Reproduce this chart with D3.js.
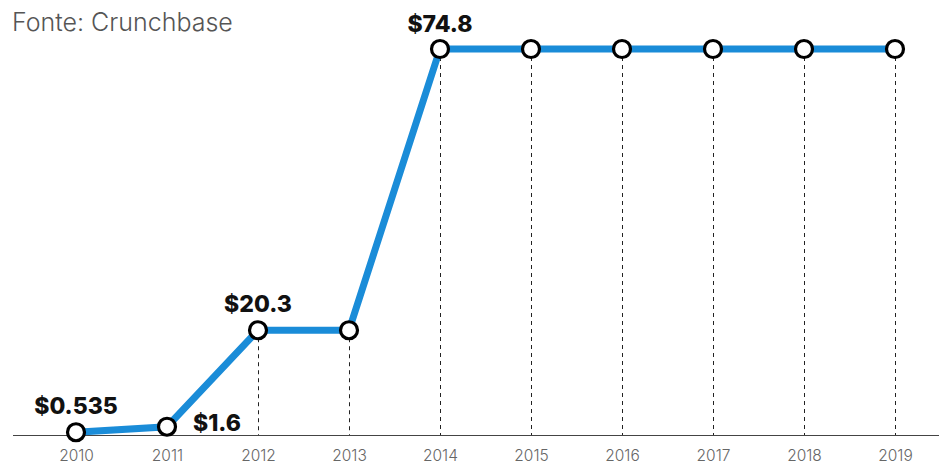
<!DOCTYPE html>
<html>
<head>
<meta charset="utf-8">
<script src="https://cdn.jsdelivr.net/npm/d3@7"></script>
<style>
  body { margin: 0; background: #fff; }
</style>
</head>
<body>
<div id="chart"></div>
<script>
// data (US$ millions, Crunchbase)
const years = ["2010", "2011", "2012", "2013", "2014", "2015", "2016", "2017", "2018", "2019"]
const funding = [0.535, 1.6, 20.3, 20.3, 74.8, 74.8, 74.8, 74.8, 74.8, 74.8]
const pointLabels = ["$0.535", "$1.6", "$20.3", "", "$74.8", "", "", "", "", ""]

const width = 939
const height = 464

const svg = d3.select("#chart").append("svg")
    .attr("width", width)
    .attr("height", height)

let x = d3.scalePoint().domain(years).range([76, 895])
let y = d3.scaleLinear().domain([0, 74.8]).range([435, 49])

// source note
svg.append("text")
    .attr("x", 12)
    .attr("y", 31)
    .attr("font-family", "Inter, 'Noto Sans', sans-serif")
    .attr("font-size", 25)
    .attr("font-weight", 300)
    .attr("fill", "#555")
    .text("Fonte: Crunchbase")

// baseline + year labels
let xAxis = g => g.attr("transform", "translate(0,435)")
    .call(d3.axisBottom(x).tickSize(0).tickPadding(15))
    .call(g => g.select(".domain").remove())
    .call(g => g.selectAll("text")
        .attr("font-family", "Inter, 'Noto Sans', sans-serif")
        .attr("font-size", 15.5)
        .attr("font-weight", 300)
        .attr("fill", "#666"))
svg.append("line")
    .attr("x1", 13).attr("x2", width)
    .attr("y1", 435.5).attr("y2", 435.5)
    .attr("stroke", "#444")
    .attr("stroke-width", 1)
svg.append("g").call(xAxis)

// dashed drop lines
svg.append("g").selectAll("line")
    .data(years)
    .join("line")
    .attr("x1", d => x(d) + 0.5)
    .attr("x2", d => x(d) + 0.5)
    .attr("y1", (d, i) => y(funding[i]))
    .attr("y2", 435)
    .attr("stroke", "#222")
    .attr("stroke-width", 1)
    .attr("stroke-dasharray", "4,4")

// the line
let line = d3.line().x((d, i) => x(years[i])).y(d => y(d))
svg.append("path")
    .datum(funding)
    .attr("fill", "none")
    .attr("stroke", "#1a8cd8")
    .attr("stroke-width", 7)
    .attr("stroke-linejoin", "miter")
    .attr("d", line)

// markers
svg.append("g").selectAll("circle")
    .data(funding)
    .join("circle")
    .attr("cx", (d, i) => x(years[i]))
    .attr("cy", d => y(d))
    .attr("r", 8.5)
    .attr("fill", "#fff")
    .attr("stroke", "#000")
    .attr("stroke-width", 3.2)

// value labels
const labelDx = [0, 26, 0, 0, 0, 0, 0, 0, 0, 0]
const labelDy = [-18, 4, -18, 0, -17, 0, 0, 0, 0, 0]
svg.append("g").selectAll("text")
    .data(pointLabels)
    .join("text")
    .attr("x", (d, i) => x(years[i]) + labelDx[i])
    .attr("y", (d, i) => y(funding[i]) + labelDy[i])
    .attr("text-anchor", (d, i) => i == 1 ? "start" : "middle")
    .attr("font-family", "Inter, 'Noto Sans', sans-serif")
    .attr("font-size", 23)
    .attr("font-weight", 800)
    .attr("fill", "#111")
    .text(d => d)
</script>
</body>
</html>
